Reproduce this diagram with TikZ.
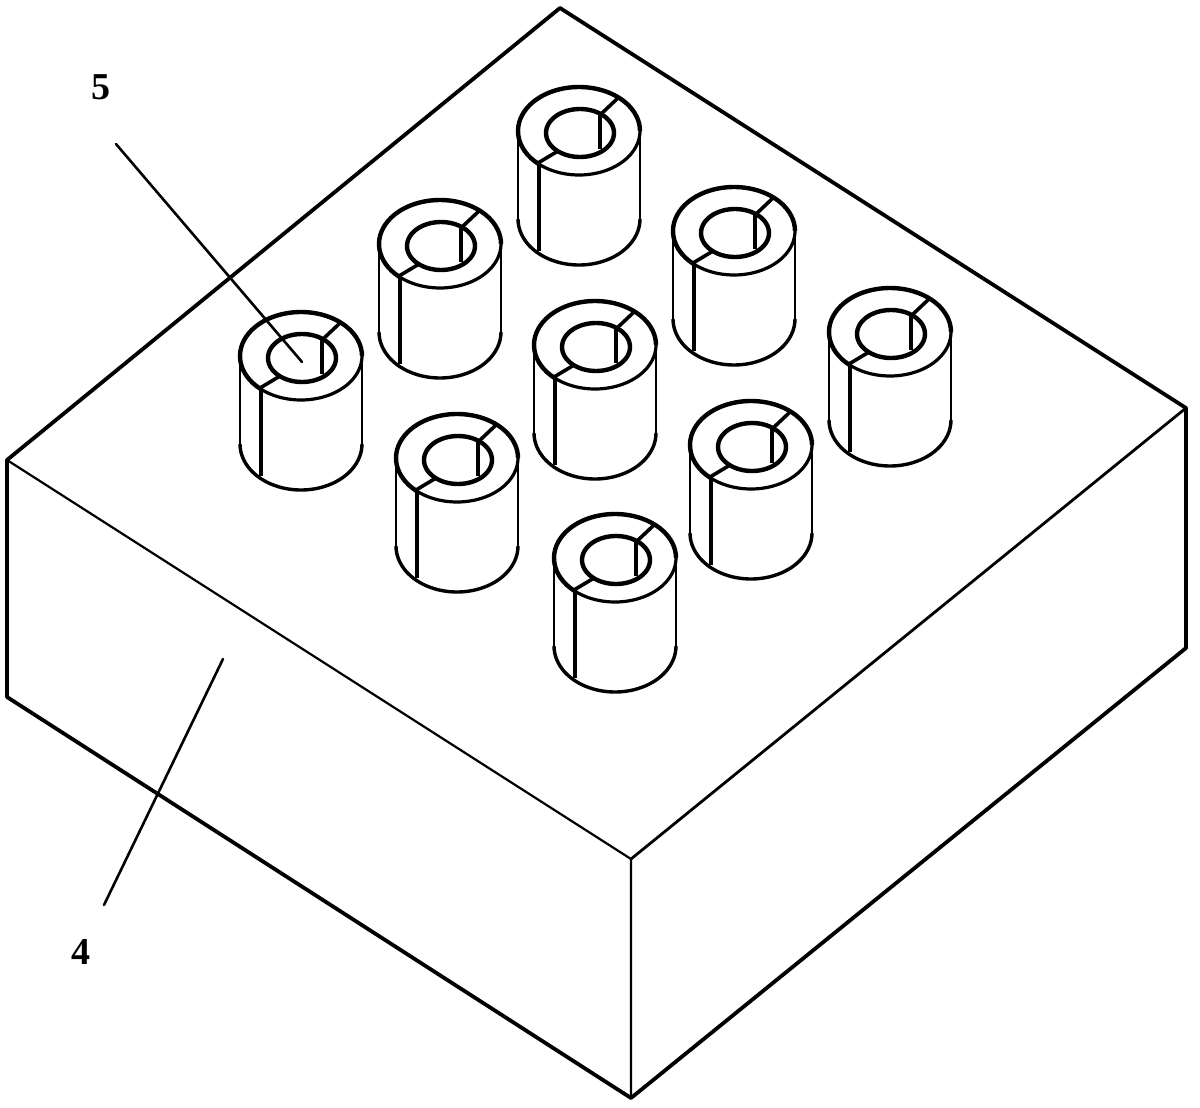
\documentclass[tikz,border=0pt]{standalone}
\usepackage{fontspec}
\setmainfont{Liberation Serif}
\tikzset{
  outer/.style={line width=3.8pt,line join=round,line cap=round},
  inner/.style={line width=2.2pt,line join=round,line cap=round},
  leader/.style={line width=2.6pt,line cap=round},
  numlabel/.style={font=\fontsize{38}{38}\selectfont\bfseries,inner sep=0pt},
  pics/roller/.style={code={
    % body
    \draw[line width=2.2pt] (-61,0) -- (-61,88);
    \draw[line width=2.2pt] (61,0) -- (61,88);
    \draw[line width=3.4pt,line join=round] plot[domain=0:180,samples=37,smooth] ({61*cos(\x)},{88+46*sin(\x)});
    % top face
    \draw[line width=3.2pt,line join=round] plot[domain=0:132,samples=27,smooth] ({61*cos(\x)},{44*sin(\x)});
    \draw[line width=4.4pt,line join=round] plot[domain=132:360,samples=47,smooth] ({61*cos(\x)},{44*sin(\x)});
    % bore
    \draw[line width=4.4pt] plot[domain=0:360,samples=61,smooth cycle] ({1+34*cos(\x)},{2+24*sin(\x)});
    % slits
    \draw[line width=3.6pt] (39,-33) -- (21,-16);
    \draw[line width=4.4pt] (21,-16) -- (21,18);
    \draw[line width=3.6pt] (-41,32) -- (-21,20);
    \draw[line width=4.4pt] (-40,32) -- (-40,120);
  }}
}
\begin{document}
\begin{tikzpicture}[x=1pt,y=-1pt]
\useasboundingbox (0,0) rectangle (1200,1108);
\fill[white] (0,0) rectangle (1200,1108);
\coordinate (T) at (560,8);
\coordinate (L) at (7,460);
\coordinate (R) at (1186,408);
\coordinate (F) at (631,859);
\coordinate (LB) at (7,697);
\coordinate (RB) at (1186,648);
\coordinate (FB) at (631,1098);
\draw[outer] (L) -- (T) -- (R) -- (RB) -- (FB) -- (LB) -- cycle;
\draw[inner] (L) -- (F) -- (FB);
\draw[line width=2.8pt,line cap=round] (F) -- (R);
\path (579,131) pic {roller};
\path (440,244) pic {roller};
\path (734,231) pic {roller};
\path (301,356) pic {roller};
\path (595,345) pic {roller};
\path (890,332) pic {roller};
\path (457,458) pic {roller};
\path (751,445) pic {roller};
\path (615,558) pic {roller};
\node[numlabel] (n5) at (101,87) {5};
\node[numlabel] (n4) at (81,952) {4};
\coordinate (a5) at (116,144);
\coordinate (b5) at (302,362);
\coordinate (a4) at (104,905);
\coordinate (b4) at (223,659);
\draw[leader] (a5) -- (b5);
\draw[leader] (a4) -- (b4);
\end{tikzpicture}
\end{document}
